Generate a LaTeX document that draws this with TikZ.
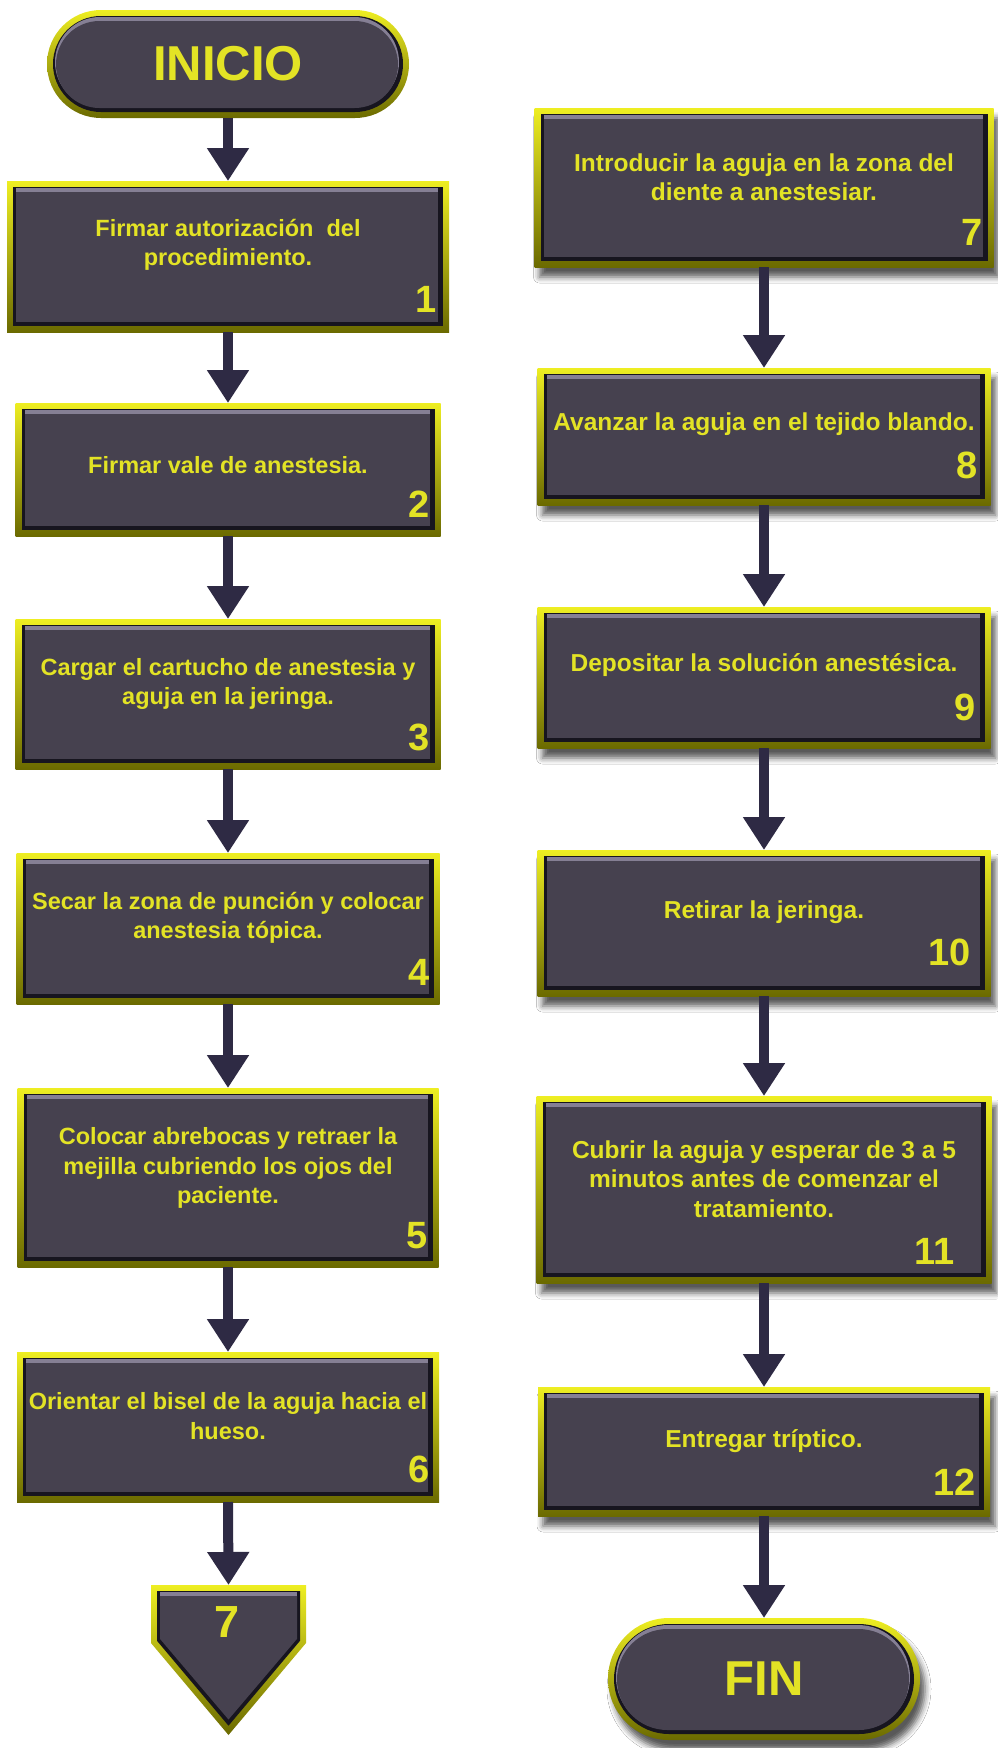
\documentclass[tikz,border=0pt]{standalone}
\usepackage{fontspec}
\setmainfont{Liberation Sans}
\usetikzlibrary{arrows.meta,shadows.blur}

\definecolor{frameTop}{HTML}{EEEE22}
\definecolor{frameBot}{HTML}{6B6A00}
\definecolor{edgeDark}{HTML}{17151F}
\definecolor{hiLite}{HTML}{857F94}
\definecolor{boxFill}{HTML}{46414F}
\definecolor{txtYellow}{HTML}{E3E325}
\definecolor{flowArrow}{HTML}{2E2A44}

\tikzset{
  % bevelled process box: yellow frame, dark rim, light top edge, dark face
  stepbox/.style 2 args={rectangle, inner sep=0pt, outer sep=0pt,
    minimum width=#1pt, minimum height=#2pt,
    top color=frameTop, bottom color=frameBot,
    path picture={
      \fill[edgeDark] ([shift={(6pt,-6pt)}]path picture bounding box.north west)
        rectangle ([shift={(-6pt,6pt)}]path picture bounding box.south east);
      \fill[hiLite] ([shift={(9pt,-7pt)}]path picture bounding box.north west)
        rectangle ([shift={(-11pt,10pt)}]path picture bounding box.south east);
      \fill[boxFill] ([shift={(9pt,-11pt)}]path picture bounding box.north west)
        rectangle ([shift={(-11pt,10pt)}]path picture bounding box.south east);
    }},
  % rounded start / end terminal
  capsule/.style 2 args={rectangle, inner sep=0pt, outer sep=0pt,
    minimum width=#1pt, minimum height=#2pt, rounded corners={#2pt/2},
    top color=frameTop, bottom color=frameBot,
    text=txtYellow, font=\bfseries\fontsize{49}{49}\selectfont,
    path picture={
      \fill[edgeDark, rounded corners={(#2pt-12pt)/2}]
        ([shift={(6pt,-6pt)}]path picture bounding box.north west)
        rectangle ([shift={(-6pt,6pt)}]path picture bounding box.south east);
      \fill[hiLite, rounded corners={(#2pt-18pt)/2}]
        ([shift={(8pt,-7pt)}]path picture bounding box.north west)
        rectangle ([shift={(-10pt,11pt)}]path picture bounding box.south east);
      \fill[boxFill, rounded corners={(#2pt-21pt)/2}]
        ([shift={(9pt,-11pt)}]path picture bounding box.north west)
        rectangle ([shift={(-11pt,10pt)}]path picture bounding box.south east);
    }},
  boxshadow/.style={blur shadow={shadow xshift=5pt, shadow yshift=-10pt,
    shadow blur radius=6pt, shadow opacity=65}},
  steptext/.style={font=\bfseries\fontsize{23.5}{29.5}\selectfont,
    text=txtYellow, align=center, inner sep=0pt},
  steptextR/.style={steptext, font=\bfseries\fontsize{24.5}{29.5}\selectfont},
  stepnum/.style={font=\bfseries\fontsize{38}{38}\selectfont,
    text=txtYellow, inner sep=0pt, anchor=base east},
  flow/.style={draw=flowArrow, line width=10pt,
    -{Triangle[width=40pt,length=33pt]}}
}

\begin{document}
\begin{tikzpicture}[x=1pt,y=-1pt]
\useasboundingbox (0,0) rectangle (998,1748);
\fill[white] (0,0) rectangle (998,1748);

% ---------- left column ----------
\node[capsule={362}{108}] (start) at (228,64) {INICIO};

\node[stepbox={442}{151}] (b1) at (228,256.5) {};
\node[steptext] (t1) at (228,245) {Firmar autorización\ \ del\\procedimiento.};
\node[stepnum] (n1) at (437,312) {1};

\node[stepbox={425}{133}] (b2) at (228,469.5) {};
\node[steptext] (t2) at (228,465) {Firmar vale de anestesia.};
\node[stepnum] (n2) at (430,517) {2};

\node[stepbox={425}{150}] (b3) at (228,694) {};
\node[steptext] (t3) at (228,684) {Cargar el cartucho de anestesia y\\aguja en la jeringa.};
\node[stepnum] (n3) at (430,750) {3};

\node[stepbox={423}{151}] (b4) at (228,928.5) {};
\node[steptext] (t4) at (228,918) {Secar la zona de punción y colocar\\anestesia tópica.};
\node[stepnum] (n4) at (430,985) {4};

\node[stepbox={421}{179}] (b5) at (228,1177.5) {};
\node[steptext] (t5) at (228,1168) {Colocar abrebocas y retraer la\\mejilla cubriendo los ojos del\\paciente.};
\node[stepnum] (n5) at (428,1248) {5};

\node[stepbox={422}{150}] (b6) at (228,1427) {};
\node[steptext] (t6) at (228,1416) {Orientar el bisel de la aguja hacia el\\hueso.};
\node[stepnum] (n6) at (430,1482) {6};

% off-page connector
\node[inner sep=0pt, outer sep=0pt, minimum width=155pt, minimum height=150pt] (off) at (228.5,1660) {};
\shade[top color=frameTop, bottom color=frameBot]
  (151,1585) -- (306,1585) -- (306,1643) -- (228.5,1735) -- (151,1643) -- cycle;
\fill[edgeDark] (157,1591) -- (300,1591) -- (300,1640.8) -- (228.5,1725.7) -- (157,1640.8) -- cycle;
\fill[hiLite] (160,1592) -- (297,1592) -- (297,1597) -- (160,1597) -- cycle;
\fill[boxFill] (160,1596) -- (297,1596) -- (297,1638.9) -- (228.5,1719.5) -- (160,1638.9) -- cycle;
\node[font=\bfseries\fontsize{45}{45}\selectfont, text=txtYellow, inner sep=0pt] (offnum) at (227,1622) {7};

% ---------- right column ----------
\node[stepbox={459}{159}, boxshadow] (b7) at (764,187.5) {};
\node[steptextR] (t7) at (764,177) {Introducir la aguja en la zona del\\diente a anestesiar.};
\node[stepnum] (n7) at (983,245) {7};

\node[stepbox={453}{137}, boxshadow] (b8) at (764,436.5) {};
\node[steptextR] (t8) at (764,424) {Avanzar la aguja en el tejido blando.};
\node[stepnum] (n8) at (978,478) {8};

\node[stepbox={453}{141}, boxshadow] (b9) at (764,677.5) {};
\node[steptextR] (t9) at (764,665) {Depositar la solución anestésica.};
\node[stepnum] (n9) at (976,720) {9};

\node[stepbox={453}{146}, boxshadow] (b10) at (764,923) {};
\node[steptextR] (t10) at (764,912) {Retirar la jeringa.};
\node[stepnum] (n10) at (971,965) {10};

\node[stepbox={455}{187}, boxshadow] (b11) at (764,1189.5) {};
\node[steptextR] (t11) at (764,1179) {Cubrir la aguja y esperar de 3 a 5\\minutos antes de comenzar el\\tratamiento.};
\node[stepnum] (n11) at (955,1264) {11};

\node[stepbox={452}{129}, boxshadow] (b12) at (764,1451.5) {};
\node[steptextR] (t12) at (764,1441) {Entregar tríptico.};
\node[stepnum] (n12) at (976,1495) {12};

\node[capsule={312}{122}, boxshadow] (fin) at (764,1679) {FIN};

% ---------- connectors ----------
\draw[flow] (start.south) -- (b1.north);
\draw[flow] (b1.south) -- (b2.north);
\draw[flow] (b2.south) -- (b3.north);
\draw[flow] (b3.south) -- (b4.north);
\draw[flow] (b4.south) -- (b5.north);
\draw[flow] (b5.south) -- (b6.north);
\draw[flow] (b6.south) -- (off.north);

\draw[flow] (b7.south) -- (b8.north);
\draw[flow] (b8.south) -- (b9.north);
\draw[flow] (b9.south) -- (b10.north);
\draw[flow] (b10.south) -- (b11.north);
\draw[flow] (b11.south) -- (b12.north);
\draw[flow] (b12.south) -- (fin.north);
\end{tikzpicture}
\end{document}
